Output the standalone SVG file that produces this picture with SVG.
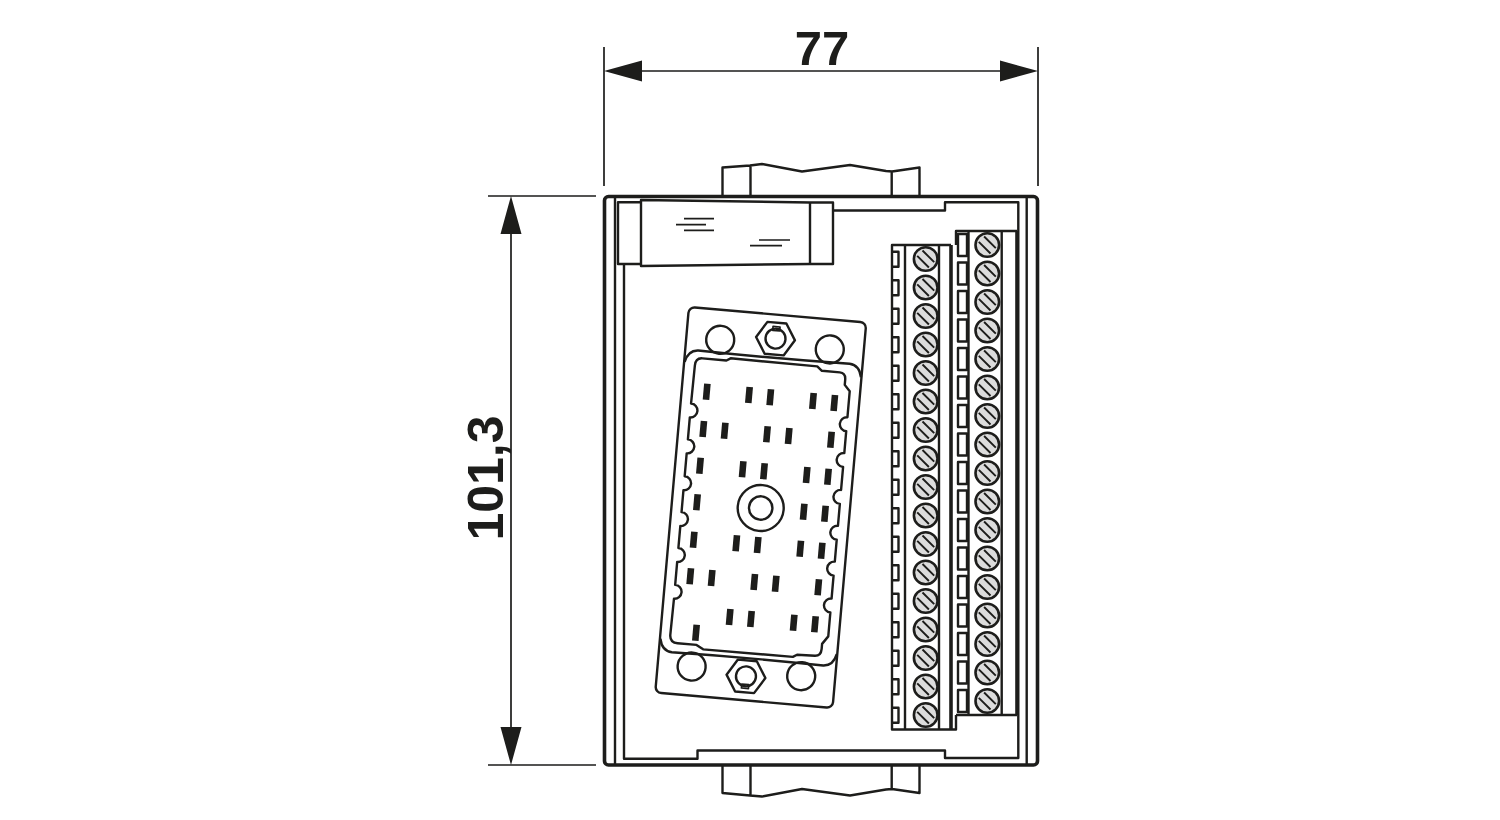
<svg xmlns="http://www.w3.org/2000/svg" xmlns:xlink="http://www.w3.org/1999/xlink" width="1500" height="820" viewBox="0 0 1500 820">
<style>
text{font-family:"Liberation Sans",Arial,sans-serif;font-weight:700;fill:#1d1d1b;font-size:49px}
.l,.m,.k{fill:none;stroke:#1d1d1b;stroke-linejoin:round;stroke-linecap:butt}
.l{stroke-width:1.7}
.m{stroke-width:2.4}
.k{stroke-width:3.6}
.s{fill:#dcdcdc;stroke:#1d1d1b;stroke-width:2.6}
.a{fill:#1d1d1b;stroke:none}
.c{fill:#1d1d1b}
</style>
<defs>
<g id="screw"><circle class="s" r="11.800"/><path class="l" style="stroke-width:1.9" d="M-8.500,-3.200 L3.200,8.500 M-3.200,-8.500 L8.500,3.200"/></g>
<rect id="pin" class="c" x="-3.300" y="-8" width="6.600" height="16" transform="rotate(5)"/>
<g id="hex"><path class="m" d="M-19.500,0 L-9.500,-16 L9.500,-16 L19.500,0 L9.500,16 L-9.500,16 Z"/><circle class="m" r="10"/></g>
</defs>
<rect width="1500" height="820" fill="#fff"/>
<g id="connectors">
<path class="l" d="M604,47V186M1038,47V186M488,196H596M488,765H596M640,71H1002M511,232V730"/>
<path class="a" d="M604,71L642,60.500V81.500ZM1038,71L1000,60.500V81.500ZM511,196L500.500,234H521.500ZM511,765L500.500,727H521.500Z"/>
</g>
<g id="dim-width"><text x="822" y="65" text-anchor="middle">77</text></g>
<g id="dim-height"><text transform="translate(503,478) rotate(-90)" text-anchor="middle" style="font-size:50px">101,3</text></g>
<g id="rail-top"><path class="m" d="M722.500,196V167.500L750,165.500L762,164L802,171.500L850,165L886,171L892,171.500L919.500,167.500V196M750.500,165.500V196M891.700,171.500V196"/></g>
<g id="rail-bottom"><path class="m" d="M722.500,765V793L750,795.500L762,796.500L802,789L850,795.500L886,789.500L892,789L919.500,793V765M750.500,795.500V765M891.700,789V765"/></g>
<g id="housing">
<rect class="k" x="604.500" y="196.500" width="433" height="568.500" rx="4"/>
<path class="m" d="M615,196.500V765M1026.700,196.500V765"/>
<path class="m" d="M624,264V758.700H697.500V750.500H945V758H1018.300V202.300H945V210.500H833"/>
</g>
<g id="fuse">
<path class="m" d="M641,202.300H618V264H641"/>
<path class="m" d="M641,200L810,202.500H833V264H810L641,266Z"/>
<path class="m" d="M810,202.500V264"/>
<path class="l" d="M684,218.700H714M676,224.700H706M684,230.300H714M759,240H790M750,245.700H782"/>
</g>
<g id="connector">
<g transform="translate(760.700,508) rotate(5)">
<rect class="m" x="-89" y="-194" width="178" height="387" rx="6"/>
<path class="m" d="M-88.500,-139 Q-86,-151 -76,-151.500 Q0,-150 76,-151.500 Q86,-151 88.500,-139"/>
<path class="m" d="M-88.500,139 Q-86,151 -76,151.500 Q0,150 76,151.500 Q86,151 88.500,139"/>
<circle class="m" cx="-55" cy="-164" r="14"/><circle class="m" cx="55" cy="-164" r="14"/>
<circle class="m" cx="-55" cy="164" r="14"/><circle class="m" cx="55" cy="164" r="14"/>
<use href="#hex" y="-170"/><use href="#hex" y="169"/>
<rect class="l" x="-3.500" y="-182" width="7" height="4"/><rect class="l" x="-3.500" y="177" width="7" height="4"/>
<circle class="m" r="23"/><circle class="m" r="11.700"/>
<path class="m" d="M-78,-136 Q-78,-144 -71,-144 L-47,-144 L-43,-146.500 L44,-146 L49,-142 L67,-142 Q73,-142 73,-135 L73,-130 L78.500,-124
L78.500,-98 A7,7 0 0 0 78.500,-84 L78.500,-62 A7,7 0 0 0 78.500,-48 L78.500,-25 A7,7 0 0 0 78.500,-11 L78.500,11 A7,7 0 0 0 78.500,25 L78.500,47 A7,7 0 0 0 78.500,61 L78.500,84 A7,7 0 0 0 78.500,98
L78.500,122 L73,130 L73,135 Q73,142 67,142.500 L49,143 L45,145.500 L-45,145.800 L-52,142 L-71,142 Q-79,142 -79,134
L-78.500,98 A7,7 0 0 0 -78.500,84 L-78.500,61 A7,7 0 0 0 -78.500,47 L-78.500,25 A7,7 0 0 0 -78.500,11 L-78.500,-11 A7,7 0 0 0 -78.500,-25 L-78.500,-48 A7,7 0 0 0 -78.500,-62 L-78.500,-84 A7,7 0 0 0 -78.500,-98 Z"/>
</g>
<use href="#pin" x="706.700" y="391.700"/><use href="#pin" x="749" y="395"/><use href="#pin" x="770.300" y="397.300"/><use href="#pin" x="813" y="401"/><use href="#pin" x="834.300" y="403"/>
<use href="#pin" x="703.300" y="429"/><use href="#pin" x="724.700" y="430.700"/><use href="#pin" x="767" y="434.300"/><use href="#pin" x="788.700" y="436"/><use href="#pin" x="831" y="439.700"/>
<use href="#pin" x="700" y="465.700"/><use href="#pin" x="742.700" y="469.300"/><use href="#pin" x="764" y="471.300"/><use href="#pin" x="806.700" y="475"/><use href="#pin" x="828" y="476.700"/>
<use href="#pin" x="697" y="502.300"/><use href="#pin" x="803.700" y="511.700"/><use href="#pin" x="825" y="513.700"/>
<use href="#pin" x="693.700" y="539.700"/><use href="#pin" x="736.300" y="543.300"/><use href="#pin" x="757.700" y="545"/><use href="#pin" x="800.300" y="548.700"/><use href="#pin" x="821.700" y="550.700"/>
<use href="#pin" x="690.300" y="576.300"/><use href="#pin" x="711.700" y="578"/><use href="#pin" x="754.300" y="582"/><use href="#pin" x="775.700" y="583.700"/><use href="#pin" x="818.300" y="587.300"/>
<use href="#pin" x="729.700" y="617"/><use href="#pin" x="751" y="619"/><use href="#pin" x="793.700" y="622.700"/><use href="#pin" x="815" y="624.300"/><use href="#pin" x="696" y="632.700"/>
</g>
<g id="terminal-left">
<path class="m" d="M951,245H892V729.500H956V715M905,245V729.500M939,245V729.500"/>
<path class="k" d="M951,245V729.500"/>
<path class="m" d="M892,251.700H898.500V266.700H892M892,280.200H898.500V295.200H892M892,308.700H898.500V323.700H892M892,337.200H898.500V352.200H892M892,365.700H898.500V380.700H892M892,394.200H898.500V409.200H892M892,422.700H898.500V437.700H892M892,451.200H898.500V466.200H892M892,479.700H898.500V494.700H892M892,508.200H898.500V523.200H892M892,536.700H898.500V551.700H892M892,565.200H898.500V580.200H892M892,593.700H898.500V608.700H892M892,622.200H898.500V637.200H892M892,650.700H898.500V665.700H892M892,679.200H898.500V694.200H892M892,707.700H898.500V722.700H892"/>
<use href="#screw" x="925.700" y="259"/><use href="#screw" x="925.700" y="287.500"/><use href="#screw" x="925.700" y="316"/><use href="#screw" x="925.700" y="344.500"/><use href="#screw" x="925.700" y="373"/><use href="#screw" x="925.700" y="401.500"/><use href="#screw" x="925.700" y="430"/><use href="#screw" x="925.700" y="458.500"/><use href="#screw" x="925.700" y="487"/><use href="#screw" x="925.700" y="515.500"/><use href="#screw" x="925.700" y="544"/><use href="#screw" x="925.700" y="572.500"/><use href="#screw" x="925.700" y="601"/><use href="#screw" x="925.700" y="629.500"/><use href="#screw" x="925.700" y="658"/><use href="#screw" x="925.700" y="686.500"/><use href="#screw" x="925.700" y="715"/>
</g>
<g id="terminal-right">
<path class="m" d="M956,245V231H1017M956,715H1017M968.500,231V715M1001.700,231V715"/>
<path class="k" d="M1017,231V715"/>
<path class="m" d="M958,234H967V256H958ZM958,262.500H967V284.500H958ZM958,291H967V313H958ZM958,319.500H967V341.500H958ZM958,348H967V370H958ZM958,376.500H967V398.500H958ZM958,405H967V427H958ZM958,433.500H967V455.500H958ZM958,462H967V484H958ZM958,490.500H967V512.500H958ZM958,519H967V541H958ZM958,547.500H967V569.500H958ZM958,576H967V598H958ZM958,604.500H967V626.500H958ZM958,633H967V655H958ZM958,661.500H967V683.500H958ZM958,690H967V712H958Z"/>
<use href="#screw" x="987.300" y="245"/><use href="#screw" x="987.300" y="273.500"/><use href="#screw" x="987.300" y="302"/><use href="#screw" x="987.300" y="330.500"/><use href="#screw" x="987.300" y="359"/><use href="#screw" x="987.300" y="387.500"/><use href="#screw" x="987.300" y="416"/><use href="#screw" x="987.300" y="444.500"/><use href="#screw" x="987.300" y="473"/><use href="#screw" x="987.300" y="501.500"/><use href="#screw" x="987.300" y="530"/><use href="#screw" x="987.300" y="558.500"/><use href="#screw" x="987.300" y="587"/><use href="#screw" x="987.300" y="615.500"/><use href="#screw" x="987.300" y="644"/><use href="#screw" x="987.300" y="672.500"/><use href="#screw" x="987.300" y="701"/>
</g>
</svg>
